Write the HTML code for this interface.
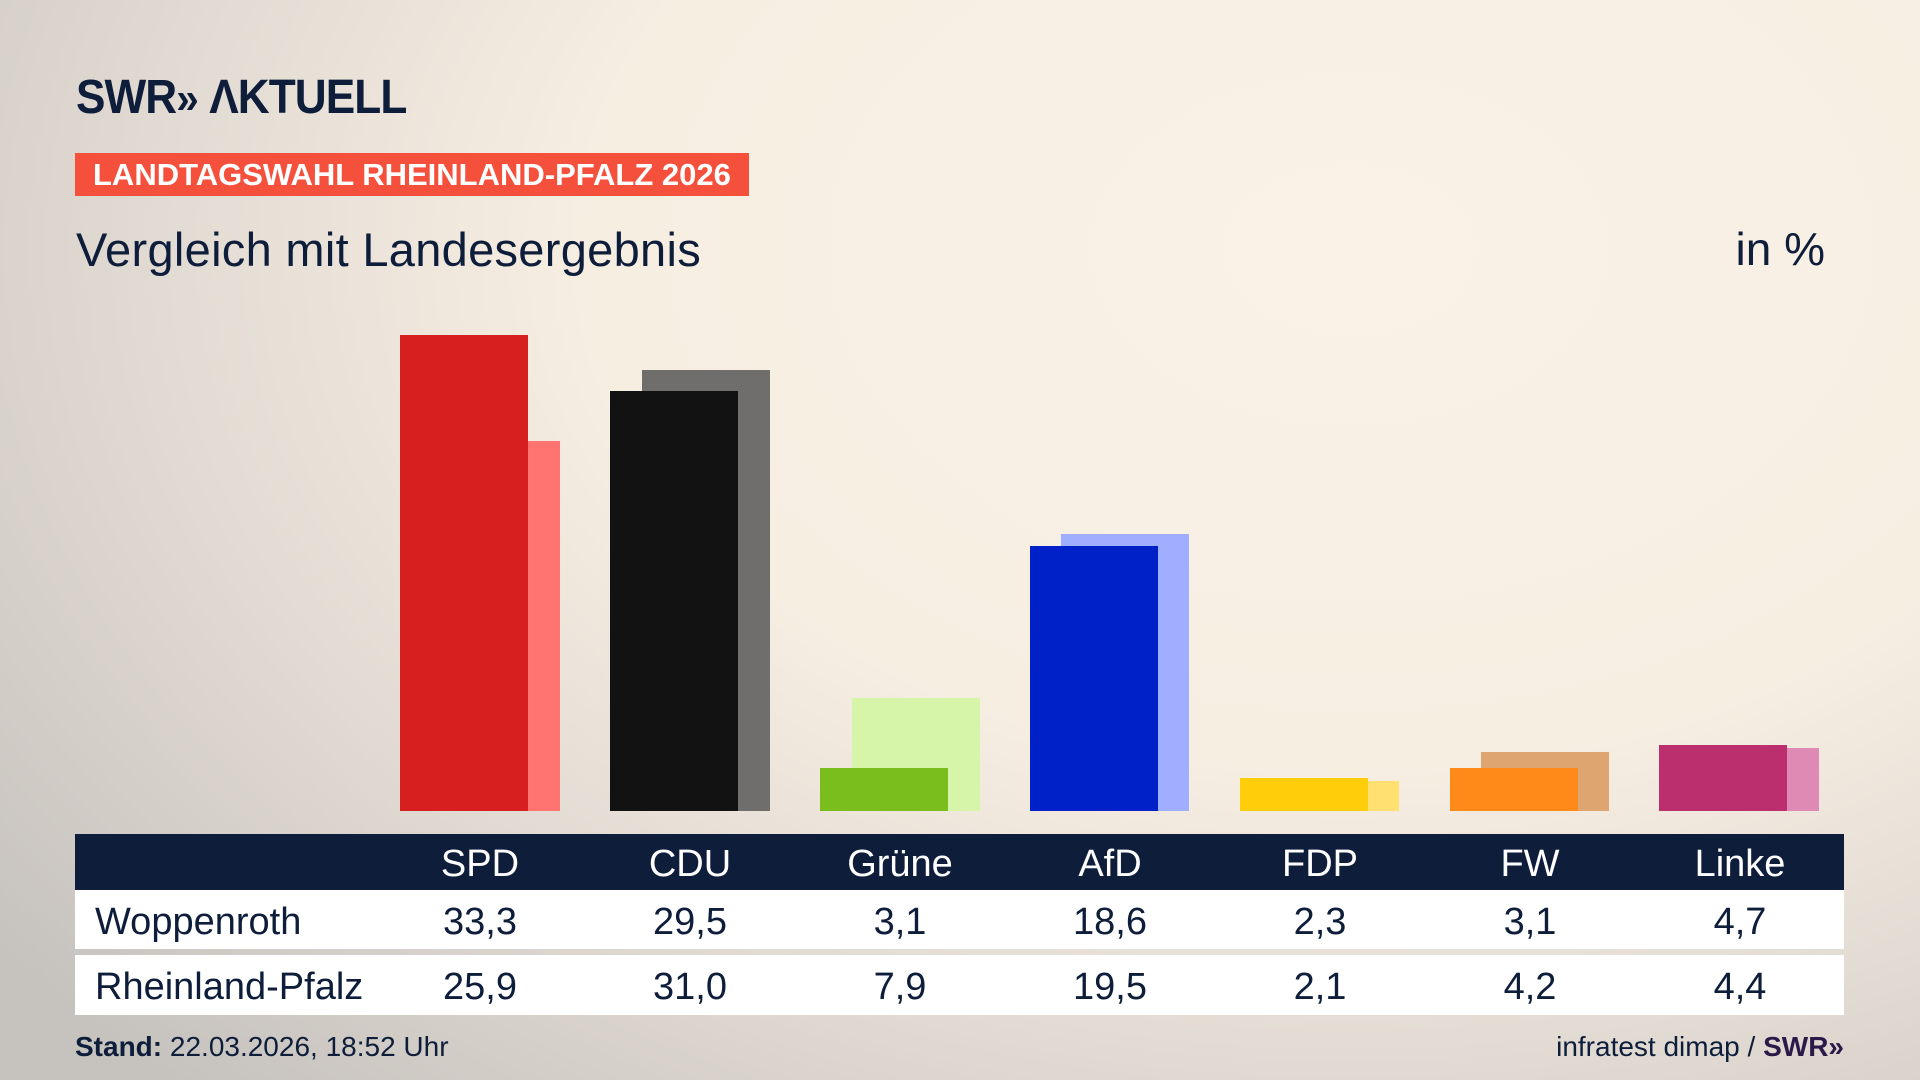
<!DOCTYPE html>
<html><head><meta charset="utf-8"><style>
*{margin:0;padding:0;box-sizing:border-box}
body{width:1920px;height:1080px;overflow:hidden;position:relative;font-family:"Liberation Sans Narrow","Liberation Sans",sans-serif;color:#0d1d3a;
background:radial-gradient(ellipse 1700px 1150px at 1350px 250px,#faf2e7 0%,#f7eee2 45%,#e2dbd3 70%,#c6c2be 100%);}
.abs{position:absolute}
.logo{left:76px;top:70px;font-size:48px;font-weight:bold;letter-spacing:-1px;color:#0d1d3a;transform:scaleX(.92);transform-origin:left;white-space:nowrap}
.banner{left:75px;top:153px;width:674px;height:43px;background:#f5503c;color:#fff;font-weight:bold;font-size:31px;line-height:43px;padding-left:18px;white-space:nowrap}
.sub{left:76px;top:222px;font-size:47px;font-family:"Liberation Sans",sans-serif;white-space:nowrap;letter-spacing:.3px}
.unit{left:1625px;top:222px;font-size:46px;width:200px;text-align:right;font-family:"Liberation Sans",sans-serif;white-space:nowrap}
.bar{position:absolute;width:128px}
.tbl{position:absolute;left:75px;width:1769px}
.cell{position:absolute;width:210px;text-align:center;font-size:38px;white-space:nowrap}
</style></head><body>
<div class="abs logo">SWR<span style="font-size:44px">»</span> ΛKTUELL</div>
<div class="abs banner">LANDTAGSWAHL RHEINLAND-PFALZ 2026</div>
<div class="abs sub">Vergleich mit Landesergebnis</div>
<div class="abs unit">in %</div>

<div class="bar" style="left:432px;top:441px;height:370px;background:#ff7470"></div>
<div class="bar" style="left:400px;top:335px;height:476px;background:#d71f1f"></div>

<div class="bar" style="left:642px;top:370px;height:441px;background:#6f6e6c"></div>
<div class="bar" style="left:610px;top:391px;height:420px;background:#121212"></div>

<div class="bar" style="left:852px;top:698px;height:113px;background:#d6f5a8"></div>
<div class="bar" style="left:820px;top:768px;height:43px;background:#7abe1e"></div>

<div class="bar" style="left:1061px;top:534px;height:277px;background:#a0aeff"></div>
<div class="bar" style="left:1030px;top:546px;height:265px;background:#0021c8"></div>

<div class="bar" style="left:1271px;top:781px;height:30px;background:#ffe070"></div>
<div class="bar" style="left:1240px;top:778px;height:33px;background:#ffcd0a"></div>

<div class="bar" style="left:1481px;top:752px;height:59px;background:#dea571"></div>
<div class="bar" style="left:1450px;top:768px;height:43px;background:#ff8a1a"></div>

<div class="bar" style="left:1691px;top:748px;height:63px;background:#df8ab4"></div>
<div class="bar" style="left:1659px;top:745px;height:66px;background:#bb2f6f"></div>

<div class="tbl" style="top:834px;height:56px;background:#0d1d3a"></div>
<div class="tbl" style="top:890px;height:59px;background:#fff"></div>
<div class="tbl" style="top:955px;height:60px;background:#fff"></div>

<div style="position:absolute;left:0;top:843px;color:#fff">
<div class="cell" style="left:375px">SPD</div><div class="cell" style="left:585px">CDU</div><div class="cell" style="left:795px">Grüne</div><div class="cell" style="left:1005px">AfD</div><div class="cell" style="left:1215px">FDP</div><div class="cell" style="left:1425px">FW</div><div class="cell" style="left:1635px">Linke</div>
</div>
<div style="position:absolute;left:0;top:901px">
<div class="cell" style="left:95px;text-align:left;width:300px">Woppenroth</div>
<div class="cell" style="left:375px">33,3</div><div class="cell" style="left:585px">29,5</div><div class="cell" style="left:795px">3,1</div><div class="cell" style="left:1005px">18,6</div><div class="cell" style="left:1215px">2,3</div><div class="cell" style="left:1425px">3,1</div><div class="cell" style="left:1635px">4,7</div>
</div>
<div style="position:absolute;left:0;top:966px">
<div class="cell" style="left:95px;text-align:left;width:300px">Rheinland-Pfalz</div>
<div class="cell" style="left:375px">25,9</div><div class="cell" style="left:585px">31,0</div><div class="cell" style="left:795px">7,9</div><div class="cell" style="left:1005px">19,5</div><div class="cell" style="left:1215px">2,1</div><div class="cell" style="left:1425px">4,2</div><div class="cell" style="left:1635px">4,4</div>
</div>

<div class="abs" style="left:75px;top:1031px;font-size:28px;white-space:nowrap"><b>Stand:</b> 22.03.2026, 18:52 Uhr</div>
<div class="abs" style="left:1440px;top:1031px;width:404px;text-align:right;font-size:28px;white-space:nowrap">infratest dimap / <b style="color:#2a1a4a">SWR»</b></div>
</body></html>
